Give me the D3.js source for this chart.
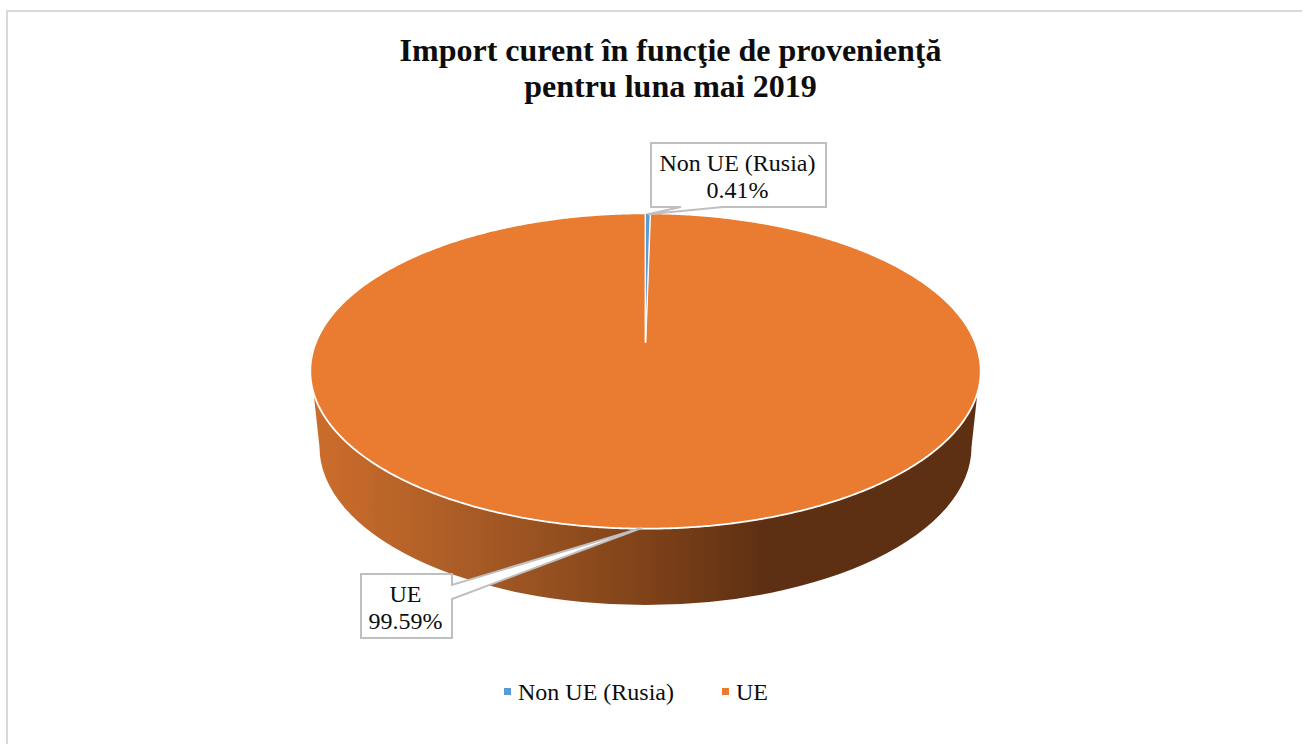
<!DOCTYPE html>
<html><head><meta charset="utf-8">
<script src="https://cdn.jsdelivr.net/npm/d3@7"></script>
<style>html,body{margin:0;padding:0;background:#fff;overflow:hidden}svg{display:block}text{font-family:"Liberation Serif",serif;fill:#0d0d0d}</style>
</head><body><svg id="c" width="1303" height="744"></svg>
<script>
const titleLines = ["Import curent în funcţie de provenienţă", "pentru luna mai 2019"];
const categories = ["Non UE (Rusia)", "UE"];
const values = [0.41, 99.59];
const valueLabels = ["0.41%", "99.59%"];
const colors = ["#5b9bd5", "#ea7c32"];
const sideStops = [[0,"#cb6c2b"],[0.2,"#ad5e27"],[0.5,"#7f4219"],[0.68,"#5e3013"],[1,"#5e3013"]];

const svg = d3.select("#c");
const top3d = {cx:645.5, cy:371, rx:335.2, ry:157.7};
const bottom3d = {cx:645.5, cy:447, rx:326, ry:158};
const apex = {x:645.5, y:342};
const skew = 1.4;

// frame
svg.append("path").attr("d","M7,744V11H1302").attr("fill","none").attr("stroke","#d9d9d9").attr("stroke-width",2);

// title
svg.append("g").selectAll("text").data(titleLines).join("text")
  .attr("x",670.5).attr("y",(d,i)=>61+i*36).attr("text-anchor","middle")
  .attr("font-size",32).attr("font-weight","bold").text(d=>d);

// pie angles
const pie = d3.pie().sort(null).value(d=>d)(values);

// ray from the off-centre apex out to the rim for a pie angle
function rim(a){
  const dx=skew*Math.sin(a), dy=-Math.cos(a);
  const ox=(apex.x-top3d.cx)/top3d.rx, oy=(apex.y-top3d.cy)/top3d.ry;
  const ux=dx/top3d.rx, uy=dy/top3d.ry;
  const A=ux*ux+uy*uy, B=2*(ox*ux+oy*uy), C=ox*ox+oy*oy-1;
  const t=(-B+Math.sqrt(B*B-4*A*C))/(2*A);
  return [apex.x+dx*t, apex.y+dy*t];
}
const line=d3.line();

// 3D side
const defs=svg.append("defs");
const g=defs.append("linearGradient").attr("id","side").attr("gradientUnits","userSpaceOnUse")
  .attr("x1",bottom3d.cx-bottom3d.rx).attr("x2",bottom3d.cx+bottom3d.rx).attr("y1",0).attr("y2",0);
g.selectAll("stop").data(sideStops).join("stop").attr("offset",d=>d[0]).attr("stop-color",d=>d[1]);
const rimY=393, edgeIn=top3d.rx-Math.sqrt(1-Math.pow((rimY-top3d.cy)/top3d.ry,2))*top3d.rx;
svg.append("path").attr("fill","url(#side)")
  .attr("d",`M${top3d.cx-top3d.rx+edgeIn},${rimY}L${bottom3d.cx-bottom3d.rx},${bottom3d.cy}`
    +`A${bottom3d.rx},${bottom3d.ry} 0 0 0 ${bottom3d.cx+bottom3d.rx},${bottom3d.cy}`
    +`L${top3d.cx+top3d.rx-edgeIn},${rimY}Z`);

// top face slices (orange first, blue above)
const step=Math.PI/360;
const order=[1,0];
svg.append("g").selectAll("path").data(order).join("path")
  .attr("fill",i=>colors[i]).attr("stroke","#fff").attr("stroke-width",i=>i===1?1.8:0.9).attr("stroke-linejoin","round")
  .attr("d",i=>{
    const p=pie[i];
    const pts=[[apex.x,apex.y]];
    d3.range(p.startAngle,p.endAngle,step).forEach(a=>pts.push(rim(a)));
    pts.push(rim(p.endAngle));
    return line(pts)+"Z";
  });

// callouts
const mid=i=>(pie[i].startAngle+pie[i].endAngle)/2;
const boxes=[{x:651,y:143,w:175,h:64,side:"bottom",p0:681,p1:723},
             {x:361,y:574,w:91,h:64,side:"right",p0:585,p1:599}];
boxes.forEach((b,i)=>{
  const tip=rim(mid(i));
  let d;
  if(b.side==="bottom")
    d=`M${b.x},${b.y}H${b.x+b.w}V${b.y+b.h}H${b.p1}L${tip[0]},${tip[1]+1}L${b.p0},${b.y+b.h}H${b.x}Z`;
  else
    d=`M${b.x},${b.y}H${b.x+b.w}V${b.p0}L${tip[0]},${tip[1]-1}L${b.x+b.w},${b.p1}V${b.y+b.h}H${b.x}Z`;
  svg.append("path").attr("d",d).attr("fill","#fff").attr("stroke","#bfbfbf").attr("stroke-width",2).attr("stroke-linejoin","miter");
  const t=svg.append("text").attr("text-anchor","middle").attr("font-size",24);
  t.append("tspan").attr("x",b.x+b.w/2-1).attr("y",b.y+28).text(categories[i]);
  t.append("tspan").attr("x",b.x+b.w/2-1).attr("y",b.y+55).text(valueLabels[i]);
});

// legend
const legendX=[504,722];
const lg=svg.append("g").selectAll("g").data(categories).join("g");
lg.append("rect").attr("x",(d,i)=>legendX[i]).attr("y",688).attr("width",7).attr("height",7).attr("fill",(d,i)=>colors[i]);
lg.append("text").attr("x",(d,i)=>legendX[i]+14).attr("y",700).attr("font-size",24).text(d=>d);
</script></body></html>
